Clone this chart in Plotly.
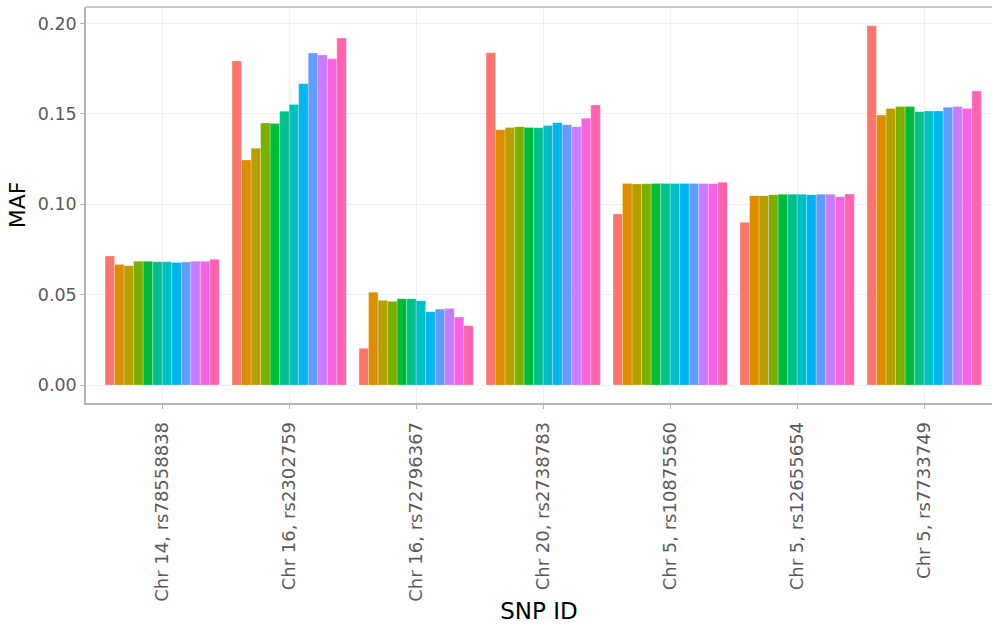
import plotly.graph_objects as go

# SNP identifiers along the x axis
snps = [
    "Chr 14, rs78558838",
    "Chr 16, rs2302759",
    "Chr 16, rs72796367",
    "Chr 20, rs2738783",
    "Chr 5, rs10875560",
    "Chr 5, rs12655654",
    "Chr 5, rs7733749",
]

# Minor allele frequency per SNP for each of the 12 populations
maf_g01 = [0.0713, 0.1792, 0.0203, 0.1838, 0.0946, 0.0900, 0.1987]
maf_g02 = [0.0667, 0.1244, 0.0513, 0.1412, 0.1115, 0.1047, 0.1493]
maf_g03 = [0.0660, 0.1309, 0.0468, 0.1425, 0.1112, 0.1047, 0.1530]
maf_g04 = [0.0684, 0.1449, 0.0463, 0.1429, 0.1113, 0.1053, 0.1540]
maf_g05 = [0.0684, 0.1447, 0.0477, 0.1425, 0.1115, 0.1055, 0.1540]
maf_g06 = [0.0682, 0.1514, 0.0477, 0.1423, 0.1115, 0.1055, 0.1512]
maf_g07 = [0.0682, 0.1552, 0.0466, 0.1436, 0.1115, 0.1055, 0.1516]
maf_g08 = [0.0678, 0.1667, 0.0405, 0.1451, 0.1115, 0.1053, 0.1516]
maf_g09 = [0.0680, 0.1836, 0.0420, 0.1440, 0.1115, 0.1055, 0.1536]
maf_g10 = [0.0684, 0.1825, 0.0424, 0.1429, 0.1115, 0.1055, 0.1540]
maf_g11 = [0.0684, 0.1805, 0.0376, 0.1475, 0.1113, 0.1042, 0.1530]
maf_g12 = [0.0695, 0.1919, 0.0328, 0.1549, 0.1121, 0.1057, 0.1626]

groups = ["G1", "G2", "G3", "G4", "G5", "G6", "G7", "G8", "G9", "G10", "G11", "G12"]
series = [maf_g01, maf_g02, maf_g03, maf_g04, maf_g05, maf_g06,
          maf_g07, maf_g08, maf_g09, maf_g10, maf_g11, maf_g12]

# ggplot2 default hue palette for 12 levels
colors = ["#F8766D", "#DE8C00", "#B79F00", "#7CAE00", "#00BA38", "#00C08B",
          "#00BFC4", "#00B4F0", "#619CFF", "#C77CFF", "#F564E3", "#FF64B0"]

fig = go.Figure()
for name, vals, col in zip(groups, series, colors):
    fig.add_trace(go.Bar(
        x=snps, y=vals, name=name,
        marker=dict(color=col, line=dict(width=0.4, color="rgba(255,255,255,0.6)")),
    ))

font = "DejaVu Sans"
grid = "#F0F0F0"
border = "#B3B3B3"
tick_col = "#5A5A5A"

fig.update_layout(
    width=992, height=624,
    margin=dict(l=86, r=0, t=7, b=221),
    paper_bgcolor="white", plot_bgcolor="white",
    barmode="group", bargap=0.1, bargroupgap=0,
    showlegend=False,
    font=dict(family=font),
    xaxis=dict(
        range=[-0.6, 6.534],
        tickangle=-90,
        tickfont=dict(family=font, size=18, color=tick_col),
        showgrid=True, gridcolor=grid, gridwidth=1,
        showline=True, linecolor=border, linewidth=1.5,
        ticks="outside", ticklen=4, tickcolor=border, tickwidth=1,
        ticklabelstandoff=6,
        title=dict(text="SNP ID", font=dict(family=font, size=23, color="black"), standoff=2),
        zeroline=False, fixedrange=True,
    ),
    yaxis=dict(
        range=[-0.00996, 0.2091],
        tickvals=[0, 0.05, 0.10, 0.15, 0.20],
        ticktext=["0.00", "0.05", "0.10", "0.15", "0.20"],
        tickfont=dict(family=font, size=17.5, color=tick_col),
        showgrid=True, gridcolor=grid, gridwidth=1,
        showline=True, linecolor=border, linewidth=1.5,
        ticks="outside", ticklen=4, tickcolor=border, tickwidth=1,
        title=dict(text="MAF", font=dict(family=font, size=22, color="black"), standoff=6),
        zeroline=False, fixedrange=True,
    ),
)

# top edge of the panel frame
fig.add_shape(type="line", xref="paper", yref="paper", x0=0, x1=1, y0=1, y1=1,
              line=dict(color=border, width=1.5))

fig.write_html("out.html")
